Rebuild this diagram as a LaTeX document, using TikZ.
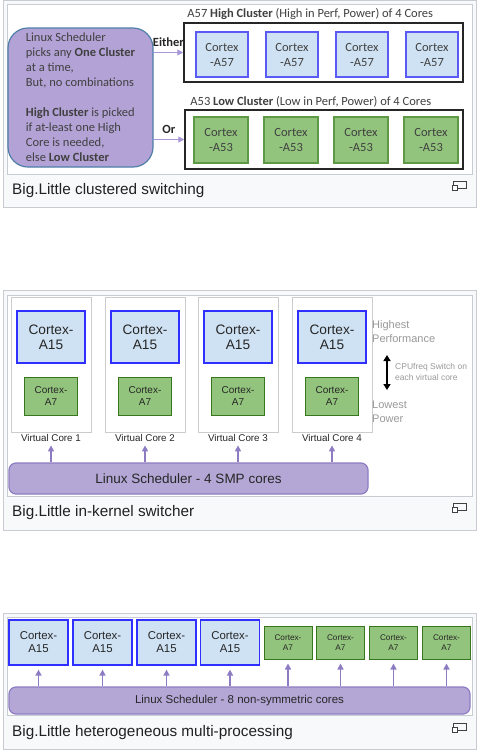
\documentclass[tikz,border=0pt]{standalone}
\usepackage{fontspec}
\setmainfont{Liberation Sans}
\newfontfamily\calibri{Carlito}
\usetikzlibrary{arrows.meta,positioning}

\definecolor{framegray}{HTML}{C8CCD1}
\definecolor{framebg}{HTML}{F8F9FA}
\definecolor{captext}{HTML}{202122}
\definecolor{bigfill}{HTML}{CFE2F3}
\definecolor{bigline}{HTML}{2F2FFF}
\definecolor{bigline1}{HTML}{5A5AF5}
\definecolor{littlefill}{HTML}{93C47D}
\definecolor{littleline}{HTML}{38761D}
\definecolor{littleline1}{HTML}{5E9A45}
\definecolor{schedfill}{HTML}{B4A7D6}
\definecolor{schedline}{HTML}{8E7CC3}
\definecolor{pickfill}{HTML}{B3A2D6}
\definecolor{pickline}{HTML}{4F7FA8}
\definecolor{pickarrow}{HTML}{A797D8}
\definecolor{darktext}{HTML}{404040}
\definecolor{hinttext}{HTML}{999999}

\begin{document}
\begin{tikzpicture}[x=1pt, y=-1pt, >={Triangle[length=6pt,width=6pt]},
  every node/.style={inner sep=0pt},
  thumb/.style={draw=framegray, fill=framebg},
  imgbox/.style={draw=framegray, fill=white},
  caption/.style={anchor=base west, text=captext, font=\fontsize{15.3}{18}\selectfont},
  calfont/.style={font=\calibri\fontsize{12.5}{15}\selectfont, text=darktext},
  pickbox/.style={calfont, draw=pickline, fill=pickfill, line width=1.2pt, rounded corners=20pt, align=left},
  cluster/.style={draw=black!85, line width=1.5pt, fill=white},
  bigcore1/.style={calfont, draw=bigline1, fill=bigfill, line width=1.5pt, align=center},
  littlecore1/.style={calfont, draw=littleline1, fill=littlefill, line width=1.2pt, align=center},
  bigcore/.style={draw=bigline, fill=bigfill, line width=1.2pt, align=center, text=black!85},
  littlecore/.style={draw=littleline, fill=littlefill, line width=1pt, align=center, text=black!85},
  vcore/.style={draw=black!20, fill=white, line width=0.6pt},
  sched/.style={draw=schedline, fill=schedfill, line width=1.2pt, rounded corners=7pt, text=black!85},
  up/.style={->, draw=schedline, fill=schedline, line width=1.5pt, shorten >=4pt},
  hint/.style={anchor=north west, align=left, text=hinttext}]

  \useasboundingbox (0,0) rectangle (484,753);
  % frames and captions
  \draw[thumb] (3,0.5) rectangle (476,207);
  \draw[imgbox] (7,4.5) rectangle (472,174);
  \draw[thumb] (3,290) rectangle (476,530);
  \draw[imgbox] (7,295) rectangle (472,496);
  \draw[thumb] (3,613) rectangle (476,749);
  \draw[imgbox] (7,617) rectangle (472,715);
  \node[caption] (cap1) at (12,194) {Big.Little clustered switching};
  \node[caption] (cap2) at (12,516) {Big.Little in-kernel switcher};
  \node[caption] (cap3) at (12,736) {Big.Little heterogeneous multi-processing};
  \foreach \y in {194,516,736} {
    \draw[black!75, line width=0.8pt] (453,\y-13) rectangle (466,\y-6);
    \draw[black!75, fill=white, line width=0.8pt] (452,\y-9) rectangle (457,\y-4);
  }

  % clustered switching
  \node[pickbox, minimum width=145, minimum height=139] (pick) at (80.5,97.5)
    {Linux Scheduler\\picks any \textbf{One Cluster}\\at a time,\\But, no combinations\\[15pt]
     \textbf{High Cluster} is picked\\if at-least one High\\Core is needed,\\else \textbf{Low Cluster}};
  \node[cluster, minimum width=279, minimum height=59] (high) at (323.5,52.5) {};
  \node[cluster, minimum width=278, minimum height=59] (low) at (324,139.5) {};
  \node[calfont, anchor=south west] (hightitle) at ([xshift=4pt,yshift=2pt]high.north west)
    {A57 \textbf{High Cluster} (High in Perf, Power) of 4 Cores};
  \node[calfont, anchor=south west] (lowtitle) at ([xshift=6pt,yshift=2pt]low.north west)
    {A53 \textbf{Low Cluster} (Low in Perf, Power) of 4 Cores};
  \foreach \i/\x in {1/222,2/292,3/362,4/432}
    \node[bigcore1, minimum width=52, minimum height=45] (a57\i) at (\x,54.5) {Cortex\\-A57};
  \foreach \i/\x in {1/221,2/291,3/361,4/431}
    \node[littlecore1, minimum width=54, minimum height=46] (a53\i) at (\x,140) {Cortex\\-A53};
  \draw[->, pickarrow, line width=1pt] (pick.east |- high.west) -- (high.west)
    node[midway, above=5pt, calfont, font=\calibri\bfseries\fontsize{12.5}{15}\selectfont, text=black!85] (either) {Either};
  \draw[->, pickarrow, line width=1pt] (pick.east |- low.west) -- (low.west)
    node[midway, above=5pt, calfont, font=\calibri\bfseries\fontsize{12.5}{15}\selectfont, text=black!85] (or) {Or};

  % in-kernel switcher
  \foreach \i/\x in {1/51,2/145,3/238,4/332} {
    \node[vcore, minimum width=80, minimum height=135] (vc\i) at (\x,364.5) {};
    \node[bigcore, minimum width=68, minimum height=52, font=\fontsize{13.7}{15}\selectfont] (a15\i) at (\x,337) {Cortex-\\A15};
    \node[littlecore, minimum width=53, minimum height=38, font=\fontsize{10}{12}\selectfont] (a7\i) at (\x,396) {Cortex-\\A7};
    \node[anchor=north, font=\fontsize{9.8}{11}\selectfont, text=black!85] (vlab\i) at ([yshift=-1.5pt]vc\i.south) {Virtual Core \i};
  }
  \node[sched, minimum width=359, minimum height=31, font=\fontsize{13.5}{15}\selectfont] (smp) at (188.5,478.5) {Linux Scheduler - 4 SMP cores};
  \foreach \i in {1,...,4}
    \draw[up] (smp.north -| vlab\i.south) -- (vlab\i.south);
  \node[hint, font=\fontsize{11}{14}\selectfont] (highest) at (372,320) {Highest\\Performance};
  \node[hint, font=\fontsize{11}{13.5}\selectfont] (lowest) at (372,401) {Lowest\\Power};
  \node[hint, font=\fontsize{8.5}{11}\selectfont] (cpufreq) at (395,363) {CPUfreq Switch on\\each virtual core};
  \coordinate (swtop) at (387,355);
  \coordinate (swbot) at (387,390);
  \draw[<->, line width=1.5pt, >={Triangle[length=6pt,width=7pt]}] (swtop) -- (swbot);

  % heterogeneous multi-processing
  \foreach \i/\x in {1/38.5,2/102.5,3/166.5,4/230}
    \node[bigcore, minimum width=59, minimum height=45, font=\fontsize{11.4}{13}\selectfont] (big\i) at (\x,642.5) {Cortex-\\A15};
  \foreach \i/\x in {5/288,6/340.5,7/393.5,8/446.5}
    \node[littlecore, minimum width=48, minimum height=33, font=\fontsize{8.2}{10}\selectfont] (big\i) at (\x,642.5) {Cortex-\\A7};
  \node[sched, minimum width=461, minimum height=27, font=\fontsize{11.5}{13}\selectfont] (hmp) at (239.5,700.5) {Linux Scheduler - 8 non-symmetric cores};
  \foreach \i in {1,...,8}
    \draw[up] (hmp.north -| big\i.south) -- (big\i.south);
\end{tikzpicture}
\end{document}
